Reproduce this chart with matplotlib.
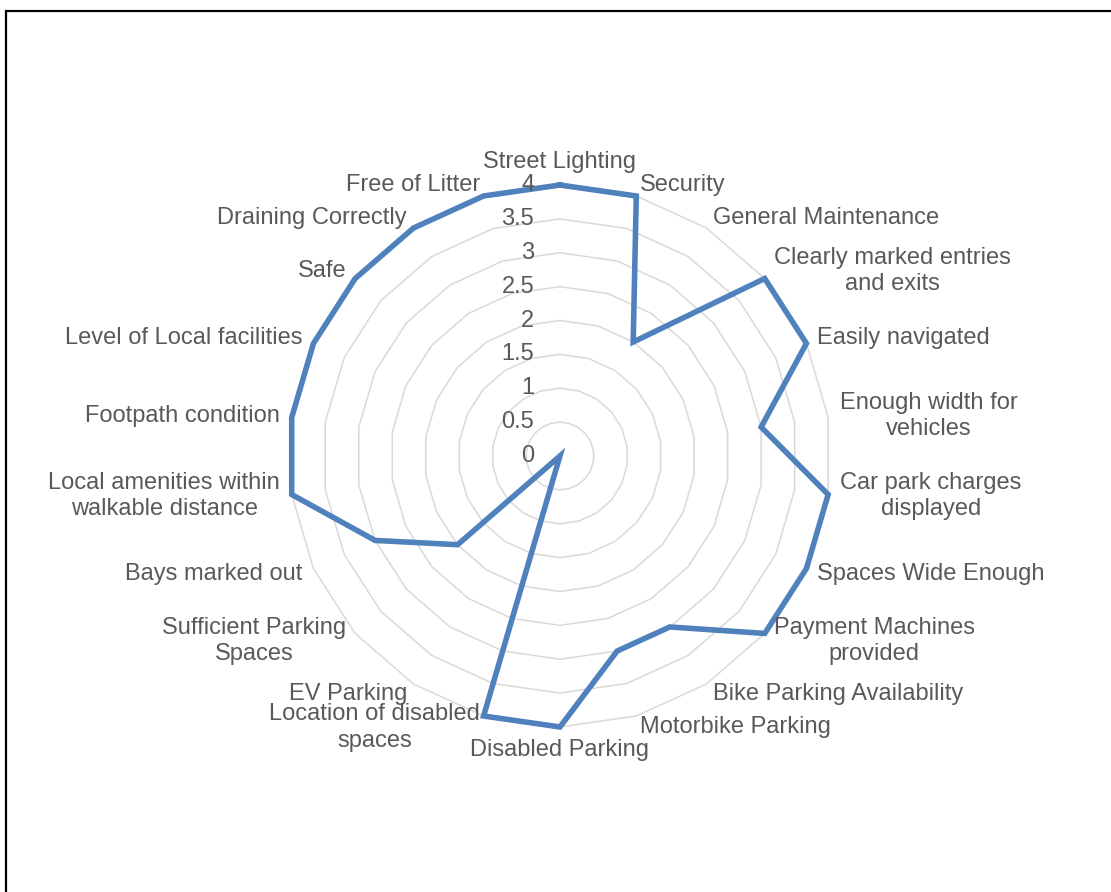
import numpy as np
import matplotlib.pyplot as plt
from matplotlib.patches import Rectangle

categories = ['Street Lighting', 'Security', 'General Maintenance',
              'Clearly marked entries\nand exits', 'Easily navigated',
              'Enough width for\nvehicles', 'Car park charges\ndisplayed',
              'Spaces Wide Enough', 'Payment Machines\nprovided',
              'Bike Parking Availability', 'Motorbike Parking',
              'Disabled Parking', 'Location of disabled\nspaces', 'EV Parking',
              'Sufficient Parking\nSpaces', 'Bays marked out',
              'Local amenities within\nwalkable distance', 'Footpath condition',
              'Level of Local facilities', 'Safe', 'Draining Correctly',
              'Free of Litter']
values = [4, 4, 2, 4, 4, 3, 4, 4, 4, 3, 3, 4, 4, 0, 2, 3, 4, 4, 4, 4, 4, 4]
ring_levels = [0.5, 1, 1.5, 2, 2.5, 3, 3.5, 4]
tick_labels = ['0', '0.5', '1', '1.5', '2', '2.5', '3', '3.5', '4']

plt.rcParams['font.family'] = ['Liberation Sans', 'DejaVu Sans']
text_color = '#595959'
line_color = '#4F81BD'

n = len(categories)
angles = np.arange(n) * 2 * np.pi / n
closed = np.append(angles, angles[0])

fig = plt.figure(figsize=(11.11, 8.92), dpi=100)
ax = fig.add_axes([0.2601, 0.185, 0.4878, 0.6076], projection='polar')
ax.set_theta_zero_location('N')
ax.set_theta_direction(-1)
ax.set_ylim(0, 4)
ax.grid(False)
ax.spines['polar'].set_visible(False)
ax.set_xticks([])
ax.set_yticks([])
ax.patch.set_visible(False)

# polygon gridlines
for r in ring_levels:
    ax.plot(closed, [r] * (n + 1), color='#D9D9D9', lw=1.1, zorder=1, clip_on=False)

# data line
ax.plot(closed, values + [values[0]], color=line_color, lw=4, zorder=3,
        clip_on=False, solid_joinstyle='miter')

# value axis labels
for i, t in enumerate(tick_labels):
    ax.annotate(t, xy=(0, i * 0.5), xytext=(-18.5, 0), textcoords='offset points',
                ha='right', va='center', fontsize=17, color=text_color,
                annotation_clip=False)

# category labels
off = 8.6
for a, lab in zip(angles, categories):
    s, c = np.sin(a), np.cos(a)
    if abs(s) < 1e-6:
        ha = 'center'
        va = 'bottom' if c > 0 else 'top'
    else:
        ha = 'left' if s > 0 else 'right'
        va = 'center'
    ax.annotate(lab, xy=(a, 4), xytext=(off * s, off * c), textcoords='offset points',
                ha=ha, va=va, multialignment='center', linespacing=1.26,
                fontsize=17, color=text_color, annotation_clip=False)

fig.add_artist(Rectangle((0.0058, -0.1), 1.2, 0.9877 + 0.1, transform=fig.transFigure,
                         fill=False, ec='black', lw=1.6))

fig.savefig('out.png', dpi=100)
